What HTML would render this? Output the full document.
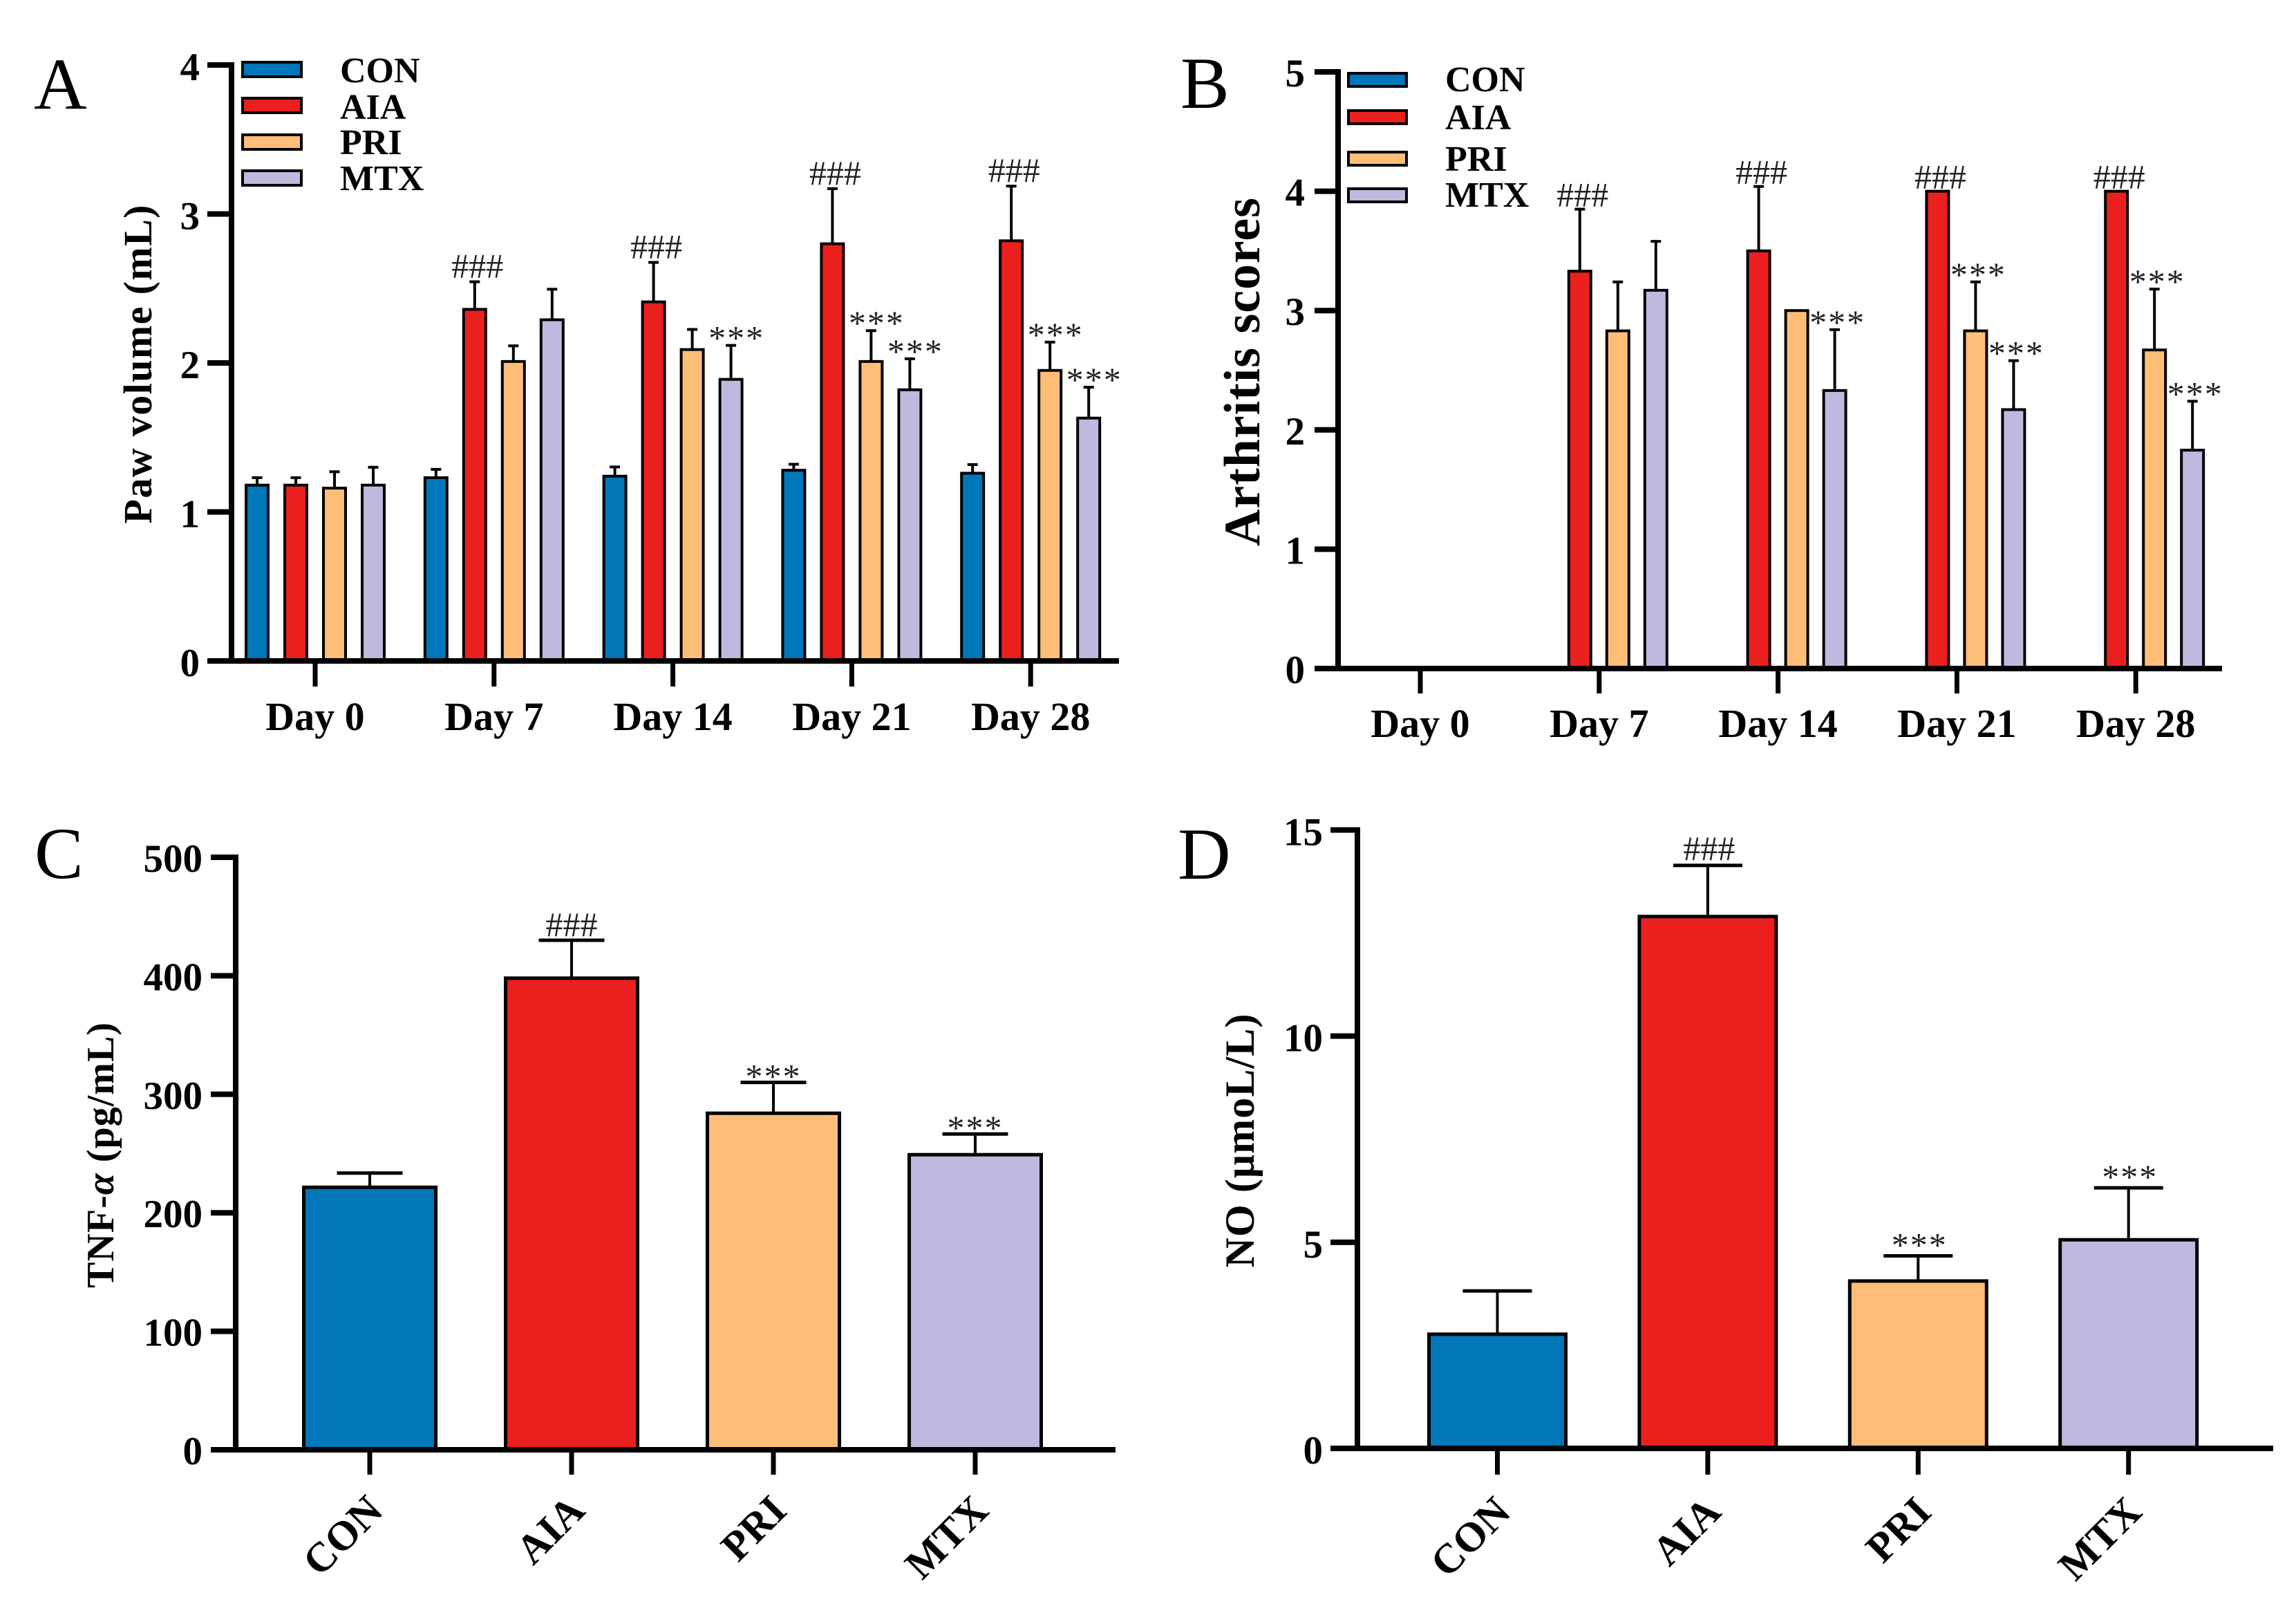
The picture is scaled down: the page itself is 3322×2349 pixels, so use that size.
<!DOCTYPE html>
<html lang="en">
<head>
<meta charset="utf-8">
<title>Paw volume, arthritis scores, TNF-α and NO bar charts</title>
<style>
  html, body { margin: 0; padding: 0; background: #fff; }
  svg { display: block; font-family: "Liberation Serif", "Noto Serif CJK SC", serif; }
</style>
</head>
<body>
<svg id="figure" xmlns="http://www.w3.org/2000/svg" width="3322" height="2349" viewBox="0 0 3322 2349">
  <rect x="0" y="0" width="3322" height="2349" fill="#ffffff"/>
</svg>
<script>
// ---------- Data ----------
const seriesNames = ['CON', 'AIA', 'PRI', 'MTX'];

const panelADays = ['Day 0', 'Day 7', 'Day 14', 'Day 21', 'Day 28'];
const panelATicks = [0, 1, 2, 3, 4];
const panelAConMean = [1.18, 1.23, 1.24, 1.28, 1.26];
const panelAAiaMean = [1.18, 2.36, 2.41, 2.80, 2.82];
const panelAPriMean = [1.16, 2.01, 2.09, 2.01, 1.95];
const panelAMtxMean = [1.18, 2.29, 1.89, 1.82, 1.63];
const panelAConErr = [0.05, 0.056, 0.062, 0.04, 0.058];
const panelAAiaErr = [0.05, 0.185, 0.265, 0.37, 0.367];
const panelAPriErr = [0.11, 0.105, 0.135, 0.207, 0.19];
const panelAMtxErr = [0.12, 0.205, 0.228, 0.208, 0.207];
const panelAConSig = ['', '', '', '', ''];
const panelAAiaSig = ['', '###', '###', '###', '###'];
const panelAPriSig = ['', '', '', '***', '***'];
const panelAMtxSig = ['', '', '***', '***', '***'];

const panelBDays = ['Day 0', 'Day 7', 'Day 14', 'Day 21', 'Day 28'];
const panelBTicks = [0, 1, 2, 3, 4, 5];
const panelBConMean = [0, 0, 0, 0, 0];
const panelBAiaMean = [0, 3.33, 3.5, 4, 4];
const panelBPriMean = [0, 2.83, 3, 2.83, 2.67];
const panelBMtxMean = [0, 3.17, 2.33, 2.17, 1.83];
const panelBConErr = [0, 0, 0, 0, 0];
const panelBAiaErr = [0, 0.52, 0.54, 0, 0];
const panelBPriErr = [0, 0.41, 0, 0.41, 0.51];
const panelBMtxErr = [0, 0.41, 0.51, 0.41, 0.41];
const panelBConSig = ['', '', '', '', ''];
const panelBAiaSig = ['', '###', '###', '###', '###'];
const panelBPriSig = ['', '', '', '***', '***'];
const panelBMtxSig = ['', '', '***', '***', '***'];

const panelCGroups = ['CON', 'AIA', 'PRI', 'MTX'];
const panelCTicks = [0, 100, 200, 300, 400, 500];
const panelCMean = [221.5, 398, 284, 249];
const panelCErr = [12, 32, 26, 17.5];
const panelCSig = ['', '###', '***', '***'];

const panelDGroups = ['CON', 'AIA', 'PRI', 'MTX'];
const panelDTicks = [0, 5, 10, 15];
const panelDMean = [2.77, 12.9, 4.06, 5.06];
const panelDErr = [1.05, 1.24, 0.61, 1.26];
const panelDSig = ['', '###', '***', '***'];

// ---------- Drawing helpers ----------
const NS = 'http://www.w3.org/2000/svg';
const root = document.getElementById('figure');
const palette = ['#0077b8', '#ea1f1e', '#ffbe78', '#c0b8de'];

function make(tag, attrs, parent, text) {
  const node = document.createElementNS(NS, tag);
  for (const key in attrs) node.setAttribute(key, attrs[key]);
  if (text !== undefined) node.textContent = text;
  parent.appendChild(node);
  return node;
}
function slug(s) { return String(s).toLowerCase().replace(/[^a-z0-9]+/g, '-'); }

function drawBar(g, name, cx, width, top, bottom, fill, strokeW) {
  const r = make('rect', { x: cx - width / 2 + strokeW / 2, y: top, width: width - strokeW, height: Math.max(0, bottom - top), fill: fill, stroke: '#000', 'stroke-width': strokeW }, g);
  
  
}
function drawError(g, name, cx, barTop, errTop, capWidth, capThick) {
  const stem = make('line', { x1: cx, x2: cx, y1: barTop, y2: errTop, stroke: '#000', 'stroke-width': 4 }, g);
  
  
  const cap = make('line', { x1: cx - capWidth / 2, x2: cx + capWidth / 2, y1: errTop, y2: errTop, stroke: '#000', 'stroke-width': capThick }, g);
  
  
}
function drawSig(g, name, cx, errTop, label, p) {
  const isHash = label.charAt(0) === '#';
  const y = errTop - (isHash ? p.hashGap : p.starGap) + (isHash ? 17 : 22);
  const t = make('text', { x: cx + (isHash ? p.hashDx : p.starDx), y: y, 'text-anchor': 'middle', 'font-size': 50, fill: '#222', 'letter-spacing': isHash ? 0 : 2 }, g, label);
  
  
}

function drawAxes(g, p, yOf, xTicks) {
  const yAxis = make('line', { x1: p.axisX, x2: p.axisX, y1: yOf(p.ticks[p.ticks.length - 1]) - 4, y2: p.baseY, stroke: '#000', 'stroke-width': 8 }, g);
  
  
  const xAxis = make('line', { x1: p.axisLeft, x2: p.axisRight, y1: p.baseY, y2: p.baseY, stroke: '#000', 'stroke-width': 8 }, g);
  
  
  p.ticks.forEach(function (v) {
    const y = yOf(v);
    const tick = make('line', { x1: p.axisLeft, x2: p.axisX, y1: y, y2: y, stroke: '#000', 'stroke-width': 8 }, g);
    
    
    const lab = make('text', { x: p.yLabelX, y: y + p.yLabelDy, 'text-anchor': 'end', 'font-size': 57, 'font-weight': 'bold', fill: '#000' }, g, String(v));
    
    
  });
  xTicks.forEach(function (cx) {
    const tick = make('line', { x1: cx, x2: cx, y1: p.baseY, y2: p.tickBottom, stroke: '#000', 'stroke-width': 7 }, g);
    
    
  });
}

function drawFrameText(g, p) {
  const letter = make('text', { x: p.letterX, y: p.letterY, 'font-size': 106, fill: '#000' }, g, p.letter);
  
  
  const title = make('text', {
    x: p.titleX, y: p.titleY, 'text-anchor': 'middle', 'font-size': p.titleSize, 'font-weight': 'bold', fill: '#000',
    textLength: p.titleLen, lengthAdjust: 'spacing',
    transform: 'rotate(-90 ' + p.titleX + ' ' + p.titleY + ')'
  }, g);
  p.titleParts.forEach(function (part) {
    const s = make('tspan', part[1] ? { 'font-style': 'italic' } : {}, title, part[0]);
    
    
  });
  
  
}

function drawLegend(g, p) {
  const box = make('g', {}, g);
  
  
  seriesNames.forEach(function (s, i) {
    const entry = make('g', {}, box);
    
    
    const sw = make('rect', { x: p.legendX + 2, y: p.legendTops[i] + 2, width: p.legendW - 4, height: p.legendH - 4, fill: palette[i], stroke: '#000', 'stroke-width': 4 }, entry);
    
    
    const tx = make('text', { x: p.legendTextX, y: p.legendBases[i], 'font-size': 52, 'font-weight': 'bold', fill: '#000' }, entry, s);
    
    
  });
}

// Grouped bars (panels A and B): one bar per series within each day.
function drawGrouped(p) {
  const g = make('g', {}, root);
  
  
  const yOf = function (v) { return p.baseY - (v / p.ticks[p.ticks.length - 1]) * (p.baseY - p.topY); };
  const xOf = function (i) { return p.firstX + i * p.stepX; };
  p.means.forEach(function (series, s) {
    series.forEach(function (v, i) {
      const cx = xOf(i) + p.offsets[s];
      const name = slug(p.days[i]) + '-' + slug(seriesNames[s]);
      drawBar(g, name, cx, p.barW, yOf(v), p.baseY, palette[s], 4);
      const err = p.errs[s][i];
      if (err > 0) drawError(g, name, cx, yOf(v), yOf(v + err), 15, 4);
      if (p.sigs[s][i]) drawSig(g, name, cx, yOf(v + err), p.sigs[s][i], p);
    });
  });
  drawAxes(g, p, yOf, p.days.map(function (d, i) { return xOf(i); }));
  p.days.forEach(function (d, i) {
    const lab = make('text', { x: xOf(i), y: p.xLabelY, 'text-anchor': 'middle', 'font-size': 58, 'font-weight': 'bold', fill: '#000' }, g, d);
    
    
  });
  drawFrameText(g, p);
  drawLegend(g, p);
}

// Single-series bars (panels C and D): one coloured bar per group.
function drawSingle(p) {
  const g = make('g', {}, root);
  
  
  const yOf = function (v) { return p.baseY - (v / p.ticks[p.ticks.length - 1]) * (p.baseY - p.topY); };
  const xOf = function (i) { return p.firstX + i * p.stepX; };
  p.mean.forEach(function (v, i) {
    const cx = xOf(i);
    const name = slug(p.groups[i]);
    drawBar(g, name, cx, p.barW, yOf(v), p.baseY, palette[i], 5);
    drawError(g, name, cx, yOf(v), yOf(v + p.err[i]), p.capW, 5);
    if (p.sig[i]) drawSig(g, name, cx, yOf(v + p.err[i]), p.sig[i], p);
  });
  drawAxes(g, p, yOf, p.groups.map(function (d, i) { return xOf(i); }));
  p.groups.forEach(function (d, i) {
    const ax = xOf(i) + 22;
    const lab = make('text', { x: ax, y: p.xLabelY, 'text-anchor': 'end', 'font-size': 60, 'font-weight': 'bold', fill: '#000', transform: 'rotate(-45 ' + ax + ' ' + p.xLabelY + ')' }, g, d);
    
    
  });
  drawFrameText(g, p);
}

drawGrouped({
  letter: 'A', days: panelADays, ticks: panelATicks,
  means: [panelAConMean, panelAAiaMean, panelAPriMean, panelAMtxMean],
  errs: [panelAConErr, panelAAiaErr, panelAPriErr, panelAMtxErr],
  sigs: [panelAConSig, panelAAiaSig, panelAPriSig, panelAMtxSig],
  baseY: 956, topY: 94, axisX: 335, axisLeft: 300, axisRight: 1619, tickBottom: 993,
  firstX: 456, stepX: 258.8, offsets: [-84, -28, 28, 84], barW: 36,
  yLabelX: 289, yLabelDy: 22, xLabelY: 1056,
  hashGap: 23, starGap: 16, hashDx: 4, starDx: 8,
  letterX: 49, letterY: 157,
  titleX: 219, titleY: 527, titleSize: 58, titleLen: 461, titleParts: [['Paw volume (mL)', false]],
  legendX: 349, legendW: 89, legendH: 25, legendTops: [88, 140, 193, 245],
  legendTextX: 492, legendBases: [119, 172, 223, 275]
});

drawGrouped({
  letter: 'B', days: panelBDays, ticks: panelBTicks,
  means: [panelBConMean, panelBAiaMean, panelBPriMean, panelBMtxMean],
  errs: [panelBConErr, panelBAiaErr, panelBPriErr, panelBMtxErr],
  sigs: [panelBConSig, panelBAiaSig, panelBPriSig, panelBMtxSig],
  baseY: 967, topY: 104, axisX: 1936, axisLeft: 1902, axisRight: 3215, tickBottom: 1003,
  firstX: 2055, stepX: 258.8, offsets: [-83, -28, 27, 82], barW: 36,
  yLabelX: 1888, yLabelDy: 21, xLabelY: 1066,
  hashGap: 21, starGap: 16, hashDx: 4, starDx: 4,
  letterX: 1708, letterY: 156,
  titleX: 1822, titleY: 538, titleSize: 74, titleLen: 504, titleParts: [['Arthritis scores', false]],
  legendX: 1949, legendW: 88, legendH: 23, legendTops: [104, 158, 218, 271],
  legendTextX: 2091, legendBases: [132, 187, 247, 299]
});

drawSingle({
  letter: 'C', groups: panelCGroups, ticks: panelCTicks, mean: panelCMean, err: panelCErr, sig: panelCSig,
  baseY: 2097, topY: 1240, axisX: 341, axisLeft: 305, axisRight: 1614, tickBottom: 2133,
  firstX: 535, stepX: 292, barW: 196, capW: 95,
  yLabelX: 293, yLabelDy: 21, xLabelY: 2188,
  hashGap: 23, starGap: 14, hashDx: 0, starDx: 0,
  letterX: 50, letterY: 1270,
  titleX: 164, titleY: 1671, titleSize: 56, titleLen: 384,
  titleParts: [['TNF-', false], ['α', true], [' (pg/mL)', false]]
});

drawSingle({
  letter: 'D', groups: panelDGroups, ticks: panelDTicks, mean: panelDMean, err: panelDErr, sig: panelDSig,
  baseY: 2095, topY: 1200.5, axisX: 1964, axisLeft: 1925, axisRight: 3289, tickBottom: 2133,
  firstX: 2166.5, stepX: 304.4, barW: 203, capW: 100,
  yLabelX: 1914, yLabelDy: 22, xLabelY: 2190,
  hashGap: 25, starGap: 21, hashDx: 2, starDx: 2,
  letterX: 1704, letterY: 1271,
  titleX: 1814, titleY: 1650, titleSize: 60, titleLen: 367, titleParts: [['NO (μmoL/L)', false]]
});
</script>
</body>
</html>
